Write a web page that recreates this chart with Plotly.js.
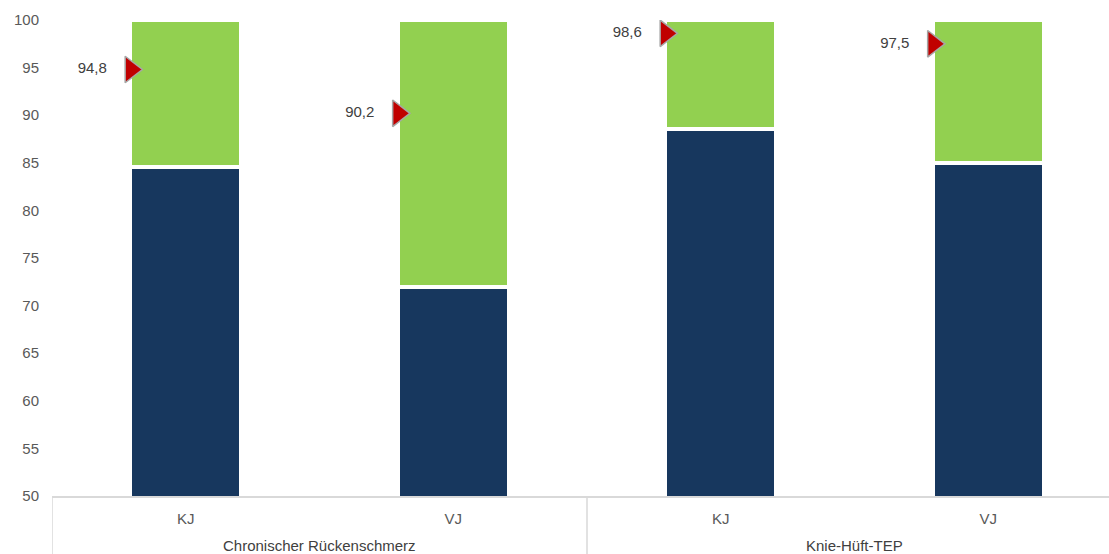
<!DOCTYPE html>
<html>
<head>
<meta charset="utf-8">
<script src="https://cdn.plot.ly/plotly-3.0.1.min.js"></script>
<style>
html,body{margin:0;padding:0;overflow:hidden;background:#fff;}
#chart{width:1130px;height:554px;}
</style>
</head>
<body>
<div id="chart"></div>
<script>
// Data
var groups = ['Chronischer Rückenschmerz', 'Knie-Hüft-TEP'];
var periods = ['KJ', 'VJ', 'KJ', 'VJ'];
var baseValues = [84.6, 72.0, 88.6, 85.0];
var topValues = [15.4, 28.0, 11.4, 15.0];
var markerValues = [94.8, 90.2, 98.6, 97.5];
var yTicks = [50, 55, 60, 65, 70, 75, 80, 85, 90, 95, 100];

var idx = periods.map(function (_, i) { return i; });
var perGroup = periods.length / groups.length;
var markerOffset = -0.205;
var labelOffset = -0.295;

var font = 'Liberation Sans, Arial, sans-serif';

var traces = [
  {
    type: 'bar',
    x: idx,
    y: baseValues,
    width: 0.415,
    marker: { color: '#17375E', line: { color: '#ffffff', width: 4 } },
    hoverinfo: 'skip'
  },
  {
    type: 'bar',
    x: idx,
    y: topValues,
    width: 0.415,
    marker: { color: '#92D050', line: { color: '#ffffff', width: 4 } },
    hoverinfo: 'skip'
  },
  {
    type: 'scatter',
    mode: 'markers',
    x: idx.map(function (i) { return i + markerOffset; }),
    y: markerValues,
    marker: { symbol: 'triangle-right', size: 23, color: '#C00000', line: { color: '#A6A6A6', width: 1.5 } },
    hoverinfo: 'skip'
  },
  {
    type: 'scatter',
    mode: 'text',
    x: idx.map(function (i) { return i + labelOffset; }),
    y: markerValues,
    texttemplate: '%{y:.1f}',
    textposition: 'middle left',
    textfont: { family: font, size: 15, color: '#404040' },
    hoverinfo: 'skip'
  }
];

// group labels and dividers below the x axis
var annotations = groups.map(function (g, k) {
  return {
    x: k * perGroup + (perGroup - 1) / 2,
    xref: 'x',
    y: 0,
    yref: 'paper',
    yanchor: 'middle',
    yshift: -49,
    showarrow: false,
    text: g,
    font: { family: font, size: 15, color: '#404040' }
  };
});
var shapes = [];
for (var k = 0; k <= groups.length; k++) {
  shapes.push({
    type: 'line',
    xref: 'x',
    yref: 'paper',
    x0: k * perGroup - 0.5,
    x1: k * perGroup - 0.5,
    y0: 0,
    y1: -0.2,
    line: { color: '#D9D9D9', width: 1.5 }
  });
}

var layout = {
  width: 1130,
  height: 554,
  margin: { l: 52, r: 8, t: 20, b: 58 },
  paper_bgcolor: '#ffffff',
  plot_bgcolor: '#ffffff',
  separators: ',.',
  barmode: 'stack',
  showlegend: false,
  font: { family: font, size: 15, color: '#595959' },
  xaxis: {
    range: [-0.5, 3.5],
    tickvals: idx,
    ticktext: periods,
    showline: true,
    linecolor: '#D9D9D9',
    linewidth: 1.5,
    showgrid: false,
    zeroline: false,
    ticks: '',
    ticklabelstandoff: 8,
    tickfont: { family: font, size: 15, color: '#595959' }
  },
  yaxis: {
    range: [50, 100],
    tickvals: yTicks,
    ticktext: yTicks.map(String),
    showgrid: false,
    zeroline: false,
    showline: false,
    ticks: '',
    ticklabelstandoff: 12,
    tickfont: { family: font, size: 15, color: '#595959' }
  },
  annotations: annotations,
  shapes: shapes
};

Plotly.newPlot('chart', traces, layout, { displayModeBar: false, staticPlot: true });
</script>
</body>
</html>
